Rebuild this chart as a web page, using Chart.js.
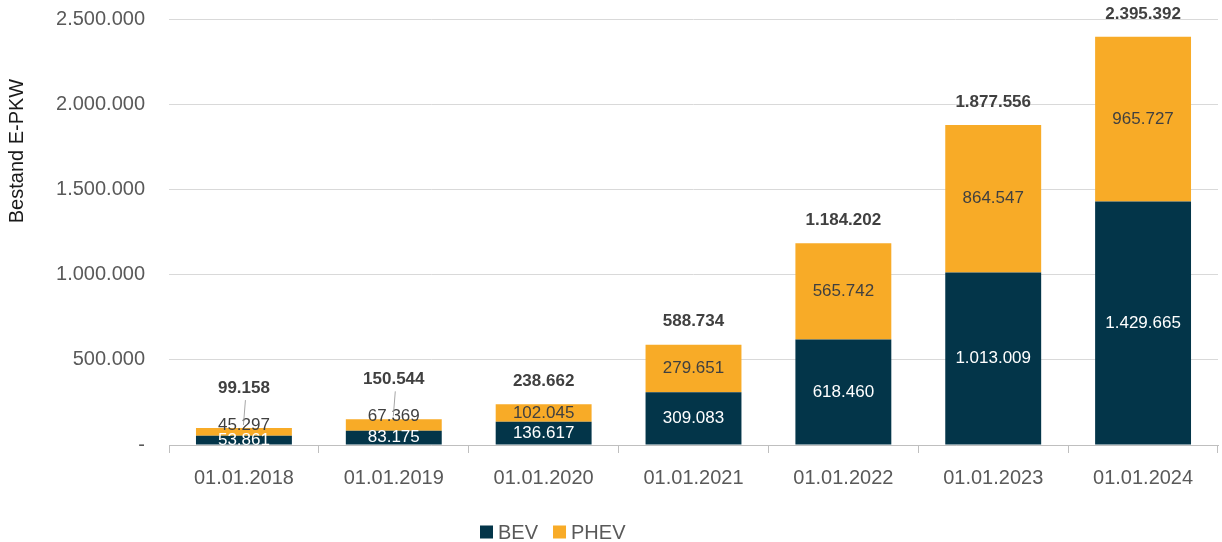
<!DOCTYPE html>
<html>
<head>
<meta charset="utf-8">
<script src="https://cdn.jsdelivr.net/npm/chart.js@4/dist/chart.umd.min.js"></script>
<style>
  html, body { margin: 0; padding: 0; background: #fff; }
</style>
</head>
<body>
<canvas id="chart" width="1222" height="542"></canvas>
<script>
// Data
const categories = ['01.01.2018', '01.01.2019', '01.01.2020', '01.01.2021', '01.01.2022', '01.01.2023', '01.01.2024'];
const bevValues = [53861, 83175, 136617, 309083, 618460, 1013009, 1429665];
const phevValues = [45297, 67369, 102045, 279651, 565742, 864547, 965727];
const totalValues = [99158, 150544, 238662, 588734, 1184202, 1877556, 2395392];
const yTicks = [0, 500000, 1000000, 1500000, 2000000, 2500000];

const FONT = '"Liberation Sans", Arial, sans-serif';

// Helper: German thousands separator
function fmt(n) {
    return String(n).replace(/\B(?=(\d{3})+(?!\d))/g, '.');
}

// Value labels inside segments + totals above bars
const labelPlugin = {
    id: 'valueLabels',
    afterDatasetsDraw(chart) {
        const ctx = chart.ctx;
        ctx.save();
        ctx.textAlign = 'center';
        ctx.textBaseline = 'middle';
        ctx.font = '17px ' + FONT;
        chart.data.datasets.forEach((ds, di) => {
            const meta = chart.getDatasetMeta(di);
            meta.data.forEach((bar, i) => {
                const h = bar.base - bar.y;
                let y = (bar.y + bar.base) / 2;
                // thin PHEV slices: label sits on top edge
                if (di === 1 && h < 14) y = bar.y - 3;
                ctx.fillStyle = di === 0 ? '#ffffff' : '#404040';
                ctx.fillText(fmt(ds.data[i]), bar.x, y);
            });
        });

        const zero = chart.scales.y.getPixelForValue(0);
        const tops = chart.getDatasetMeta(1).data;
        ctx.font = 'bold 17px ' + FONT;
        ctx.fillStyle = '#404040';
        totalValues.forEach((t, i) => {
            const bar = tops[i];
            const h = zero - bar.y;
            let ly = bar.y - 23;
            if (h < 30) {
                ly = bar.y - 40;
                ctx.strokeStyle = '#a6a6a6';
                ctx.lineWidth = 1;
                ctx.beginPath();
                ctx.moveTo(bar.x + 1.5, ly + 12);
                ctx.lineTo(bar.x - 0.5, bar.y - 3);
                ctx.stroke();
            }
            ctx.fillText(fmt(t), bar.x, ly);
        });

        // y axis title, placed near the top like the original
        ctx.save();
        ctx.translate(17, 151);
        ctx.rotate(-Math.PI / 2);
        ctx.font = '20px ' + FONT;
        ctx.fillStyle = '#1a1a1a';
        ctx.fillText('Bestand E-PKW', 0, 0);
        ctx.restore();

        // legend (drawn by hand so it sits where the original has it)
        ctx.font = '20px ' + FONT;
        ctx.textAlign = 'left';
        let x = 480;
        const ly = 532;
        chart.data.datasets.forEach(ds => {
            ctx.fillStyle = ds.backgroundColor;
            ctx.fillRect(x, ly - 6.5, 13, 13);
            x += 18;
            ctx.fillStyle = '#595959';
            ctx.fillText(ds.label, x, ly + 1);
            x += ctx.measureText(ds.label).width + 15;
        });
        ctx.restore();
    }
};

const ctx = document.getElementById('chart').getContext('2d');
window.evChart = new Chart(ctx, {
    type: 'bar',
    data: {
        labels: categories,
        datasets: [
            { label: 'BEV', data: bevValues, backgroundColor: '#033549' },
            { label: 'PHEV', data: phevValues, backgroundColor: '#f8ab27' }
        ]
    },
    options: {
        responsive: false,
        animation: false,
        layout: { padding: { left: 0, right: 4, top: 19, bottom: 39 } },
        datasets: { bar: { categoryPercentage: 1, barPercentage: 0.64 } },
        plugins: {
            tooltip: { enabled: false },
            legend: { display: false }
        },
        scales: {
            x: {
                stacked: true,
                grid: { offset: true, drawOnChartArea: false, tickLength: 8, color: '#bfbfbf' },
                border: { color: '#bfbfbf' },
                ticks: { color: '#595959', font: { size: 20, family: FONT }, padding: 13 }
            },
            y: {
                stacked: true,
                min: 0, max: 2500000,
                afterBuildTicks: s => { s.ticks = yTicks.map(v => ({ value: v })); },
                afterFit: s => { s.width = 169; s.paddingTop = 0; s.paddingBottom = 0; },
                grid: { color: '#d9d9d9', drawTicks: false },
                border: { display: false },
                ticks: {
                    color: '#595959', font: { size: 20, family: FONT }, padding: 24,
                    callback: v => v === 0 ? '-' : fmt(v)
                }
            }
        }
    },
    plugins: [labelPlugin]
});
</script>
</body>
</html>
